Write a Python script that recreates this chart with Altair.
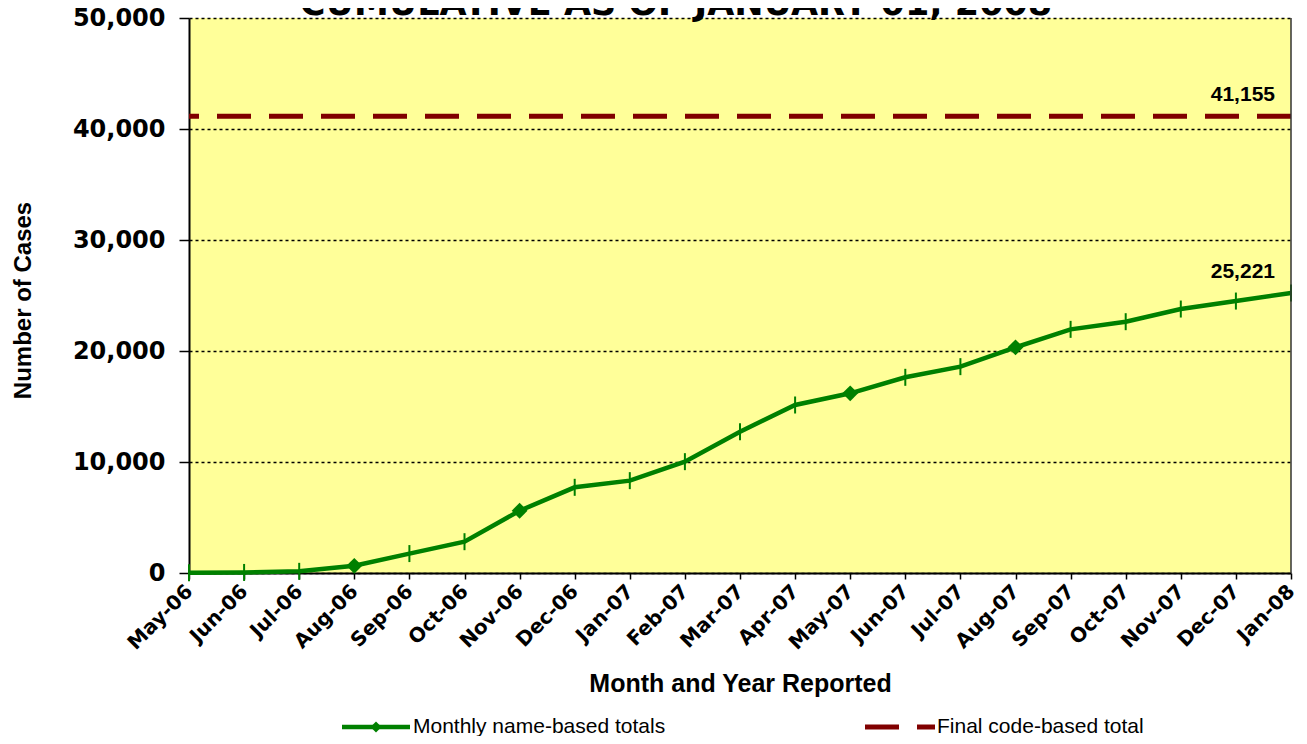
import altair as alt
import pandas as pd

months = ["May-06", "Jun-06", "Jul-06", "Aug-06", "Sep-06", "Oct-06", "Nov-06",
          "Dec-06", "Jan-07", "Feb-07", "Mar-07", "Apr-07", "May-07", "Jun-07",
          "Jul-07", "Aug-07", "Sep-07", "Oct-07", "Nov-07", "Dec-07", "Jan-08"]
cases = [20, 50, 150, 650, 1750, 2820, 5610, 7720, 8320, 10030, 12730, 15135,
         16190, 17630, 18590, 20330, 21950, 22640, 23780, 24500, 25221]
diamond_months = ["Aug-06", "Nov-06", "May-07", "Aug-07"]
final_total = 41155
series_name = "Monthly name-based totals"
final_name = "Final code-based total"
title_text = "CUMULATIVE AS OF JANUARY 01, 2008"

W, H = 1102, 555
GREEN = "#008000"
RED = "#800000"

df = pd.DataFrame({"month": months, "cases": cases})
df["marker"] = ["diamond" if m in diamond_months else "tick" for m in months]

x_enc = alt.X("month:O", sort=months,
              scale=alt.Scale(type="point", padding=0),
              axis=alt.Axis(title="Month and Year Reported",
                            labelAngle=-45, labelAlign="right", labelBaseline="middle",
                            labelFont="DejaVu Sans", labelFontWeight="bold",
                            labelFontSize=20, labelColor="black", labelPadding=9,
                            labelOverlap=False, labelBound=False,
                            tickSize=6, tickColor="black", tickWidth=1.5,
                            domainColor="black", domainWidth=2,
                            titleFont="Liberation Sans", titleFontSize=25,
                            titleFontWeight="bold", titleColor="black",
                            titleY=110, titleBaseline="middle"))
y_enc = alt.Y("cases:Q",
              scale=alt.Scale(domain=[0, 50000], nice=False),
              axis=alt.Axis(title="Number of Cases", values=[0, 10000, 20000, 30000, 40000, 50000],
                            format=",d",
                            labelFont="DejaVu Sans", labelFontWeight="bold",
                            labelFontSize=24, labelColor="black", labelPadding=14,
                            tickSize=10, tickColor="black", tickWidth=1.5,
                            domainColor="black", domainWidth=2,
                            grid=True, gridColor="black", gridDash=[3, 3], gridWidth=1.6,
                            titleFont="Liberation Sans", titleFontSize=24,
                            titleFontWeight="bold", titleColor="black",
                            titleX=-166, titleY=282, titleAlign="center",
                            titleBaseline="middle", titleAngle=-90))

base = alt.Chart(df)

line = base.mark_line(color=GREEN, strokeWidth=4.5).encode(x=x_enc, y=y_enc)

ticks = base.transform_filter(alt.datum.marker == "tick").mark_point(
    shape="M0,-1L0,1", size=289, filled=False, stroke=GREEN, strokeWidth=2, opacity=1
).encode(x=alt.X("month:O", sort=months), y="cases:Q")

diamonds = base.transform_filter(alt.datum.marker == "diamond").mark_point(
    shape="diamond", size=250, filled=True, color=GREEN, opacity=1
).encode(x=alt.X("month:O", sort=months), y="cases:Q")

final_df = pd.DataFrame({"value": [final_total], "month": [months[-1]]})
final_rule = alt.Chart(final_df).mark_rule(
    color=RED, strokeWidth=5, strokeDash=[34, 18]
).encode(y="value:Q")

final_label = alt.Chart(final_df).mark_text(
    align="right", baseline="middle", dx=-16, dy=-21,
    font="Liberation Sans", fontSize=21, fontWeight="bold", color="black"
).encode(x=alt.X("month:O", sort=months), y="value:Q",
         text=alt.Text("value:Q", format=",d"))

last_df = df.tail(1)
last_label = alt.Chart(last_df).mark_text(
    align="right", baseline="middle", dx=-16, dy=-21,
    font="Liberation Sans", fontSize=21, fontWeight="bold", color="black"
).encode(x=alt.X("month:O", sort=months), y="cases:Q",
         text=alt.Text("cases:Q", format=",d"))

one = alt.Data(values=[{}])

right_border = alt.Chart(one).mark_rule(color="#333333", strokeWidth=1.5).encode(
    x=alt.value(W), y=alt.value(0), y2=alt.value(H))

title = alt.Chart(one).mark_text(
    align="center", baseline="alphabetic", font="DejaVu Sans", fontSize=35,
    fontWeight="bold", color="black"
).encode(x=alt.value(487), y=alt.value(-3), text=alt.value(title_text))

LY = 709
leg_line = alt.Chart(one).mark_rule(color=GREEN, strokeWidth=4.5).encode(
    x=alt.value(153), x2=alt.value(221), y=alt.value(LY))
leg_diamond = alt.Chart(one).mark_point(shape="diamond", size=120, filled=True,
                                        color=GREEN, opacity=1).encode(
    x=alt.value(187), y=alt.value(LY))
leg_text1 = alt.Chart(one).mark_text(
    align="left", baseline="middle", font="Liberation Sans", fontSize=21, color="black"
).encode(x=alt.value(224), y=alt.value(LY), text=alt.value(series_name))
leg_dash1 = alt.Chart(one).mark_rule(color=RED, strokeWidth=5).encode(
    x=alt.value(676), x2=alt.value(710), y=alt.value(LY))
leg_dash2 = alt.Chart(one).mark_rule(color=RED, strokeWidth=5).encode(
    x=alt.value(728), x2=alt.value(746), y=alt.value(LY))
leg_text2 = alt.Chart(one).mark_text(
    align="left", baseline="middle", font="Liberation Sans", fontSize=21, color="black"
).encode(x=alt.value(748), y=alt.value(LY), text=alt.value(final_name))

chart = alt.layer(
    line, final_rule, ticks, diamonds, final_label, last_label, right_border,
    title, leg_line, leg_diamond, leg_text1, leg_dash1, leg_dash2, leg_text2
).properties(
    width=W, height=H,
    background="white",
    autosize=alt.AutoSizeParams(type="none"),
    padding={"left": 181, "top": 10, "right": 8, "bottom": 163},
).configure_view(fill="#FFFF99", stroke=None)

chart.save("out.html", embed_options={"renderer": "svg", "actions": False})
